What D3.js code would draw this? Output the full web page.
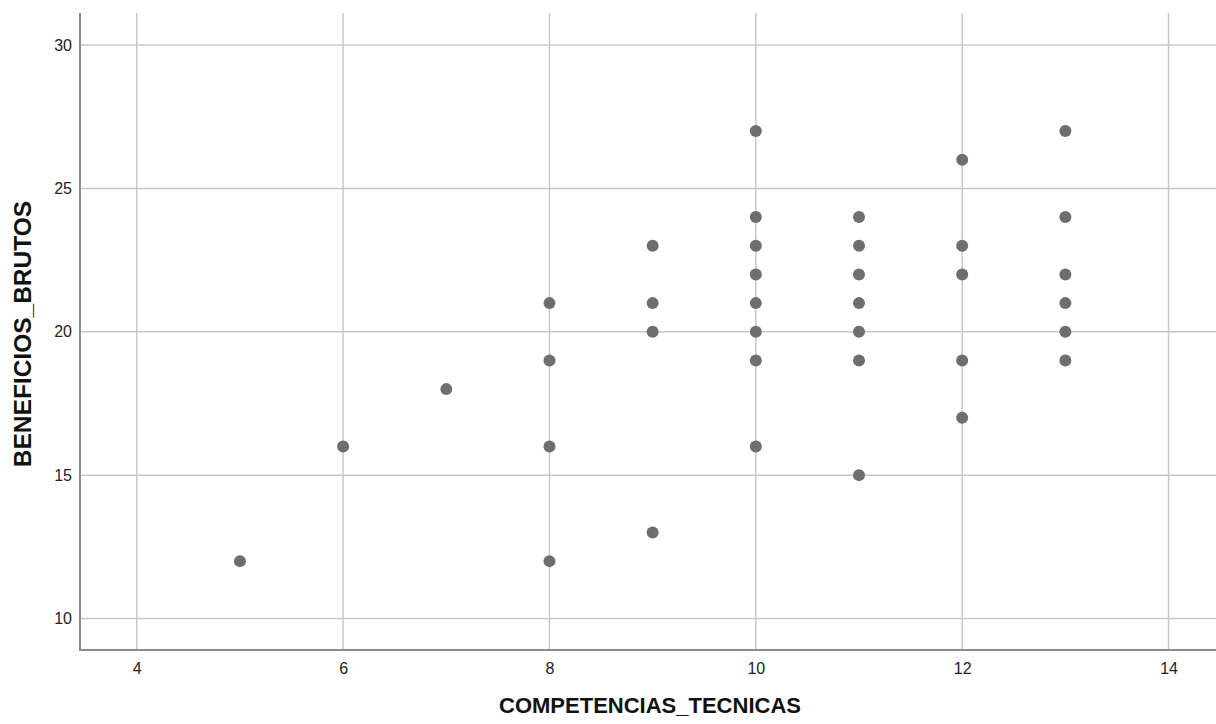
<!DOCTYPE html>
<html><head><meta charset="utf-8">
<script src="https://cdn.jsdelivr.net/npm/d3@7/dist/d3.min.js"></script>
<style>body{margin:0;background:#fff}svg{display:block}</style>
</head><body><svg id="c" width="1216" height="724"></svg>
<script>
const xValues = [5,6,7,8,8,8,8,9,9,9,9,10,10,10,10,10,10,10,10,11,11,11,11,11,11,11,12,12,12,12,12,13,13,13,13,13,13];
const yValues = [12,16,18,21,19,16,12,23,21,20,13,27,24,23,22,21,20,19,16,24,23,22,21,20,19,15,26,23,22,19,17,27,24,22,21,20,19];
const xTicks = [4,6,8,10,12,14];
const yTicks = [10,15,20,25,30];
const xTitle = "COMPETENCIAS_TECNICAS";
const yTitle = "BENEFICIOS_BRUTOS";

const svg = d3.select("#c");
const L = 80, R = 1216, T = 13, B = 650;
const x = d3.scaleLinear().domain([3.45, 14.46]).range([L, R]);
const y = d3.scaleLinear().domain([8.9, 31.12]).range([B, T]);
const font = "Liberation Sans, Arial, sans-serif";

// gridlines
svg.append("g").selectAll("line").data(yTicks).join("line")
  .attr("x1", L).attr("x2", R).attr("y1", d => y(d)).attr("y2", d => y(d))
  .attr("stroke", "#c8c8c8").attr("stroke-width", 1.5);
svg.append("g").selectAll("line").data(xTicks).join("line")
  .attr("y1", T).attr("y2", B).attr("x1", d => x(d)).attr("x2", d => x(d))
  .attr("stroke", "#c8c8c8").attr("stroke-width", 1.5);

// axes
const xa = svg.append("g").attr("transform", `translate(0,${B})`)
  .call(d3.axisBottom(x).tickValues(xTicks).tickSize(0).tickPadding(13));
const ya = svg.append("g").attr("transform", `translate(${L},0)`)
  .call(d3.axisLeft(y).tickValues(yTicks).tickSize(0).tickPadding(8));
[xa, ya].forEach(a => {
  a.select(".domain").remove();
  a.selectAll("text").attr("font-family", font)
    .attr("font-size", 16).attr("fill", "#222");
});
svg.append("line").attr("x1", L).attr("x2", R).attr("y1", B).attr("y2", B)
  .attr("stroke", "#8c8c8c").attr("stroke-width", 2);
svg.append("line").attr("x1", L).attr("x2", L).attr("y1", T).attr("y2", B + 1)
  .attr("stroke", "#8c8c8c").attr("stroke-width", 2);

// points
svg.append("g").selectAll("circle").data(xValues.map((d, i) => [d, yValues[i]])).join("circle")
  .attr("cx", d => x(d[0])).attr("cy", d => y(d[1])).attr("r", 6)
  .attr("fill", "#6e6e6e");

// titles
svg.append("text").attr("x", 650).attr("y", 713).attr("text-anchor", "middle")
  .attr("font-family", font).attr("font-size", 22)
  .attr("font-weight", "bold").attr("fill", "#111").text(xTitle);
svg.append("text").attr("transform", `translate(30.5,334) rotate(-90)`).attr("text-anchor", "middle")
  .attr("font-family", font).attr("font-size", 24.5)
  .attr("font-weight", "bold").attr("fill", "#111").text(yTitle);
</script></body></html>
